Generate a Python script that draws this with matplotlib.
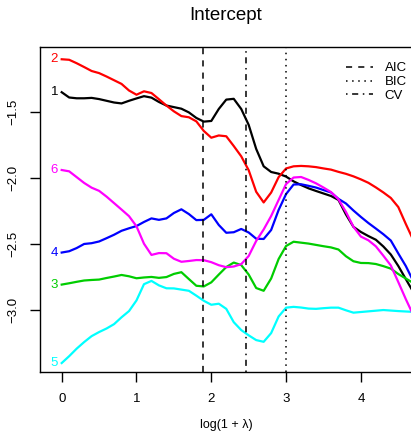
import numpy as np
import matplotlib
matplotlib.use("Agg")
import matplotlib.pyplot as plt

plt.rcParams['font.family'] = ['Liberation Sans', 'DejaVu Sans']

# lambda grid on the log(1 + lambda) scale
log_lam = np.round(np.arange(0, 4.85, 0.1), 2)

coef_1 = [-1.348, -1.388, -1.394, -1.394, -1.391, -1.400, -1.413, -1.426, -1.433, -1.413,
          -1.395, -1.378, -1.389, -1.422, -1.449, -1.461, -1.473, -1.501, -1.543, -1.571,
          -1.566, -1.475, -1.404, -1.398, -1.475, -1.596, -1.778, -1.910, -1.953, -1.966,
          -1.988, -2.024, -2.052, -2.077, -2.097, -2.116, -2.135, -2.165, -2.275, -2.369,
          -2.408, -2.439, -2.467, -2.518, -2.579, -2.666, -2.765, -2.863, -2.962]
coef_2 = [-1.098, -1.102, -1.128, -1.157, -1.187, -1.203, -1.229, -1.257, -1.285, -1.335,
          -1.367, -1.341, -1.354, -1.401, -1.449, -1.493, -1.529, -1.538, -1.569, -1.642,
          -1.693, -1.676, -1.682, -1.756, -1.834, -1.940, -2.103, -2.184, -2.109, -1.992,
          -1.926, -1.910, -1.907, -1.910, -1.916, -1.926, -1.935, -1.952, -1.967, -1.986,
          -2.009, -2.035, -2.070, -2.108, -2.150, -2.219, -2.347, -2.469, -2.590]
coef_3 = [-2.807, -2.797, -2.786, -2.776, -2.772, -2.769, -2.757, -2.746, -2.734, -2.744,
          -2.759, -2.753, -2.749, -2.756, -2.750, -2.726, -2.713, -2.765, -2.816, -2.821,
          -2.790, -2.731, -2.674, -2.640, -2.659, -2.731, -2.833, -2.854, -2.761, -2.613,
          -2.514, -2.482, -2.489, -2.496, -2.506, -2.516, -2.525, -2.541, -2.592, -2.630,
          -2.643, -2.644, -2.651, -2.667, -2.686, -2.727, -2.761, -2.795, -2.826]
coef_4 = [-2.564, -2.554, -2.530, -2.499, -2.493, -2.480, -2.455, -2.429, -2.399, -2.380,
          -2.363, -2.332, -2.305, -2.316, -2.305, -2.264, -2.236, -2.272, -2.318, -2.316,
          -2.274, -2.355, -2.414, -2.410, -2.385, -2.412, -2.459, -2.461, -2.393, -2.241,
          -2.120, -2.048, -2.046, -2.058, -2.071, -2.090, -2.108, -2.157, -2.192, -2.245,
          -2.294, -2.340, -2.382, -2.425, -2.473, -2.571, -2.666, -2.780, -2.886]
coef_5 = [-3.402, -3.350, -3.293, -3.243, -3.198, -3.167, -3.140, -3.107, -3.055, -3.008,
          -2.927, -2.804, -2.779, -2.813, -2.835, -2.836, -2.845, -2.854, -2.891, -2.930,
          -2.960, -2.952, -2.991, -3.092, -3.152, -3.192, -3.228, -3.241, -3.175, -3.049,
          -2.982, -2.976, -2.981, -2.989, -2.991, -2.986, -2.982, -2.982, -3.002, -3.020,
          -3.015, -3.010, -3.005, -3.000, -3.004, -3.008, -3.011, -3.014, -3.016]
coef_6 = [-1.938, -1.948, -1.992, -2.036, -2.072, -2.096, -2.140, -2.189, -2.238, -2.288,
          -2.365, -2.497, -2.582, -2.568, -2.569, -2.611, -2.634, -2.628, -2.621, -2.622,
          -2.637, -2.660, -2.675, -2.670, -2.652, -2.590, -2.476, -2.389, -2.287, -2.165,
          -2.044, -1.995, -1.991, -2.013, -2.039, -2.071, -2.105, -2.160, -2.256, -2.368,
          -2.443, -2.471, -2.517, -2.588, -2.662, -2.788, -2.917, -3.038, -3.152]

paths = [coef_1, coef_2, coef_3, coef_4, coef_5, coef_6]
path_labels = ["1", "2", "3", "4", "5", "6"]
path_colors = ["black", "#FF0000", "#00CD00", "#0000FF", "#00FFFF", "#FF00FF"]

# selected tuning parameters
sel_names = ["AIC", "BIC", "CV"]
sel_values = [1.893, 3.0, 2.464]
sel_styles = [(0, (4, 4)), (0, (1, 3)), (0, (1, 3, 4, 3))]

fig = plt.figure(figsize=(4.11, 4.40), dpi=100)
ax = fig.add_axes((40 / 411, 1 - 372 / 440, 380 / 411, 325 / 440))

for coef, color, label in zip(paths, path_colors, path_labels):
    ax.plot(log_lam, coef, color=color, lw=1.6, solid_joinstyle='round')
    ax.text(-0.10, coef[0], label, color=color, fontsize=9.5, ha='center', va='center')

for name, value, style in zip(sel_names, sel_values, sel_styles):
    ax.axvline(value, color='black', lw=1.1, linestyle=style, label=name)

ax.set_xlim(-0.29, 4.79)
ax.set_ylim(-3.47, -1.005)
ax.set_xticks([0, 1, 2, 3, 4])
ax.set_yticks([-3.0, -2.5, -2.0, -1.5])
ax.set_yticklabels(["\u22123.0", "\u22122.5", "\u22122.0", "\u22121.5"])
ax.tick_params(direction='out', length=7, width=1, pad=8, labelsize=9.5, color='black')
plt.setp(ax.get_yticklabels(), rotation=90, va='center')
for side in ax.spines:
    ax.spines[side].set_linewidth(1)
    ax.spines[side].set_color('black')

ax.legend(loc='upper right', bbox_to_anchor=(416 / 411, 1 - 53 / 440),
          bbox_transform=fig.transFigure, frameon=False, fontsize=9.5,
          handlelength=2.05, handletextpad=0.85, labelspacing=0.12, borderpad=0.2)

fig.text(226 / 411, 1 - 16 / 440, "Intercept", fontsize=13.5, ha='center', va='center')
fig.text(226 / 411, 1 - 425 / 440, "log(1 + \u03bb)", fontsize=9, ha='center', va='center')

fig.savefig("out.png", dpi=100)
